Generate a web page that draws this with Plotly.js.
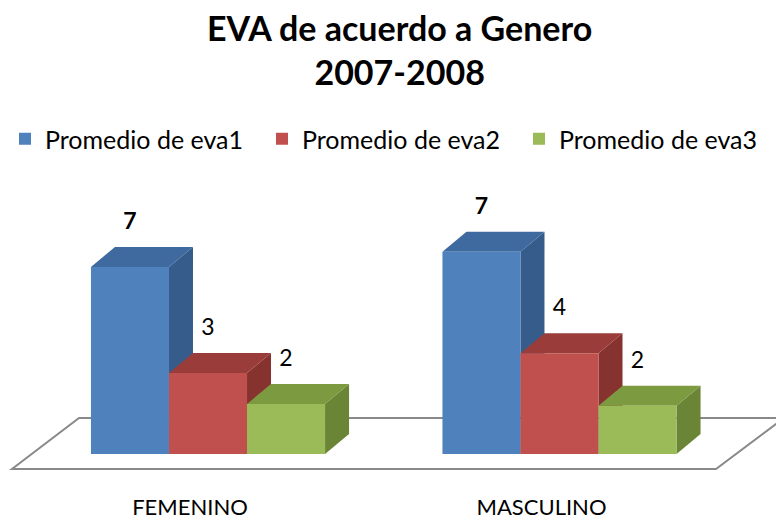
<!DOCTYPE html>
<html><head><meta charset="utf-8">
<script src="https://cdn.plot.ly/plotly-3.0.1.min.js"></script>
<style>html,body{margin:0;padding:0;background:#fff}#chart{width:776px;height:523px}</style>
</head><body><div id="chart"></div>
<script>
// ---- data ----
const categories = ['FEMENINO', 'MASCULINO'];
const seriesNames = ['Promedio de eva1', 'Promedio de eva2', 'Promedio de eva3'];
const eva1 = [6.68, 7.22];
const eva2 = [2.89, 3.60];
const eva3 = [1.79, 1.72];
const seriesValues = [eva1, eva2, eva3];

// ---- style ----
const frontColors = ['#4F81BD', '#C0504D', '#9BBB59'];
const topColors   = ['#3E6AA0', '#9A3C39', '#7C9A40'];
const sideColors  = ['#365C8C', '#86322F', '#6A8535'];
const labelWeights = [700, 400, 400];
const FONT = 'Lato, "Open Sans", sans-serif';

const W = 776, H = 523;
const pxPerCat = 351.5, x0px = 208;   // pixel of category 0 centre
const pxPerUnit = 28, y0px = 454;      // pixel of value 0
const mT = 165, mB = 31;
const xRange = [(0 - x0px) / pxPerCat, (W - x0px) / pxPerCat];
const yRange = [(y0px - (H - mB)) / pxPerUnit, (y0px - mT) / pxPerUnit];
const bargap = 0.334;
const nS = seriesValues.length;
const bw = (1 - bargap) / nS;
const depthX = 24 / pxPerCat, depthY = 20 / pxPerUnit;
const labelGap = 24 / pxPerUnit;
const px2x = p => (p - x0px) / pxPerCat;
const px2y = p => (y0px - p) / pxPerUnit;

const catIdx = categories.map((c, i) => i);
const traces = [];
seriesValues.forEach((vals, s) => {
  traces.push({
    type: 'bar', name: seriesNames[s], x: catIdx, y: vals,
    marker: {color: frontColors[s], line: {width: 0}},
    hoverinfo: 'y'
  });
});
seriesValues.forEach((vals, s) => {
  const off = (s - (nS - 1) / 2) * bw;
  traces.push({
    type: 'scatter', mode: 'text', showlegend: false, hoverinfo: 'skip',
    x: catIdx.map(i => i + off),
    y: vals.map(v => v + depthY + labelGap),
    text: vals.map(v => String(Math.round(v))),
    textposition: 'middle center',
    textfont: {family: FONT, size: 23, color: '#000', weight: labelWeights[s]}
  });
});

// 3D faces, computed from values through the axes
const shapes = [];
const fl = px2x(12), bl = px2x(79), fr = px2x(716), br = px2x(784);
const fy = px2y(469), by = px2y(418);
shapes.push({type: 'path', xref: 'x', yref: 'y', layer: 'below',
  path: `M${fl},${fy}L${bl},${by}L${br},${by}L${fr},${fy}Z`,
  fillcolor: '#FFFFFF', line: {color: '#898989', width: 2}});
catIdx.forEach(i => {
  seriesValues.forEach((vals, s) => {
    const v = vals[i];
    const xc = i + (s - (nS - 1) / 2) * bw;
    const xl = xc - bw / 2, xr = xc + bw / 2;
    shapes.push({type: 'path', xref: 'x', yref: 'y', layer: 'below',
      path: `M${xr},0L${xr + depthX},${depthY}L${xr + depthX},${v + depthY}L${xr},${v}Z`,
      fillcolor: sideColors[s], line: {width: 0}});
    shapes.push({type: 'path', xref: 'x', yref: 'y', layer: 'below',
      path: `M${xl},${v}L${xl + depthX},${v + depthY}L${xr + depthX},${v + depthY}L${xr},${v}Z`,
      fillcolor: topColors[s], line: {width: 0}});
  });
});

const layout = {
  width: W, height: H,
  margin: {l: 0, r: 0, t: mT, b: mB, pad: 0},
  paper_bgcolor: '#FFFFFF', plot_bgcolor: '#FFFFFF',
  title: {text: 'EVA de acuerdo a Genero<br>2007-2008',
    font: {family: FONT, size: 34, color: '#000', weight: 700},
    x: 0.515, xanchor: 'center', y: 0.922, yref: 'container', yanchor: 'top'},
  showlegend: true,
  legend: {orientation: 'h', x: 25 / W, xanchor: 'left', y: 1 - 139 / H, yref: 'container', yanchor: 'middle',
    font: {family: FONT, size: 25, color: '#000'}, entrywidth: 212, itemwidth: 30,
    traceorder: 'normal', bgcolor: 'rgba(0,0,0,0)'},
  barmode: 'group', bargap: bargap, bargroupgap: 0,
  xaxis: {range: xRange, tickvals: catIdx, ticktext: categories, showgrid: false, zeroline: false,
    showline: false, ticks: '', tickfont: {family: FONT, size: 22, color: '#000'},
    ticklabelshift: -18, fixedrange: true, automargin: false},
  yaxis: {range: yRange, visible: false, showgrid: false, zeroline: false, fixedrange: true, automargin: false},
  shapes: shapes
};
Plotly.newPlot('chart', traces, layout, {displayModeBar: false, staticPlot: true});
</script>
</body></html>
